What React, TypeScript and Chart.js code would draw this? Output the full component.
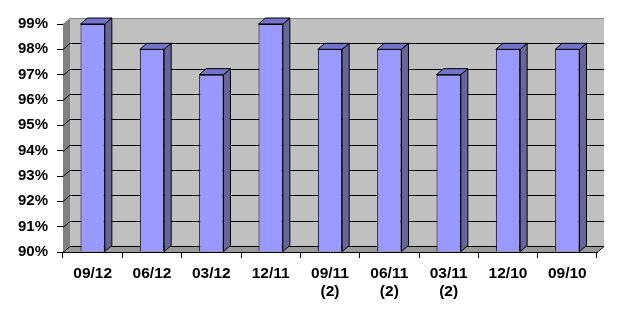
import { useEffect, useRef } from "react";
import { Chart, registerables } from "chart.js";
Chart.register(...registerables);

const categories: string[][] = [
  ["09/12"], ["06/12"], ["03/12"], ["12/11"],
  ["09/11", "(2)"], ["06/11", "(2)"], ["03/11", "(2)"],
  ["12/10"], ["09/10"],
];
const values: number[] = [99, 98, 97, 99, 98, 98, 97, 98, 98];
const yMin = 90;
const yMax = 99;
const yStep = 1;

const DX = 7;
const DY = 6;

const threeD = {
  id: "threeD",
  beforeDatasetsDraw(chart: any) {
    const { ctx, chartArea: ca, scales } = chart;
    const y = scales.y;
    const L = ca.left, R = ca.right, T = ca.top, B = ca.bottom;
    ctx.save();
    // back wall
    ctx.fillStyle = "#c0c0c0";
    ctx.fillRect(L + DX, T - DY, R - L, B - T);
    // left wall
    ctx.fillStyle = "#808080";
    ctx.beginPath();
    ctx.moveTo(L, T);
    ctx.lineTo(L + DX, T - DY);
    ctx.lineTo(L + DX, B - DY);
    ctx.lineTo(L, B);
    ctx.closePath();
    ctx.fill();
    // floor
    ctx.fillStyle = "#9a9a9a";
    ctx.beginPath();
    ctx.moveTo(L, B);
    ctx.lineTo(L + DX, B - DY);
    ctx.lineTo(R + DX, B - DY);
    ctx.lineTo(R, B);
    ctx.closePath();
    ctx.fill();
    // gridlines
    ctx.lineWidth = 1;
    for (let v = yMin; v <= yMax; v += yStep) {
      const yy = Math.round(y.getPixelForValue(v)) + 0.5;
      ctx.strokeStyle = v === yMax ? "#8a8a8a" : "#000";
      ctx.beginPath();
      ctx.moveTo(L, yy);
      ctx.lineTo(L + DX, yy - DY);
      ctx.lineTo(R + DX, yy - DY);
      ctx.stroke();
    }
    // floor right edge
    ctx.strokeStyle = "#000";
    ctx.beginPath();
    ctx.moveTo(R, B + 0.5);
    ctx.lineTo(R + DX, B - DY + 0.5);
    ctx.stroke();
    ctx.restore();
  },
  afterDatasetsDraw(chart: any) {
    const { ctx } = chart;
    const meta = chart.getDatasetMeta(0);
    ctx.save();
    ctx.lineWidth = 1;
    ctx.strokeStyle = "#000";
    meta.data.forEach((el: any) => {
      const p = el.getProps(["x", "y", "base", "width"], true);
      const left = p.x - p.width / 2;
      const right = p.x + p.width / 2;
      const top = p.y;
      const base = p.base;
      // side face
      ctx.fillStyle = "#666699";
      ctx.beginPath();
      ctx.moveTo(right, top);
      ctx.lineTo(right + DX, top - DY);
      ctx.lineTo(right + DX, base - DY);
      ctx.lineTo(right, base);
      ctx.closePath();
      ctx.fill();
      ctx.stroke();
      // top face
      ctx.fillStyle = "#7373cc";
      ctx.beginPath();
      ctx.moveTo(left, top);
      ctx.lineTo(left + DX, top - DY);
      ctx.lineTo(right + DX, top - DY);
      ctx.lineTo(right, top);
      ctx.closePath();
      ctx.fill();
      ctx.stroke();
    });
    ctx.restore();
  },
};

const yFont = { family: "'Liberation Sans', Arial, sans-serif", size: 15, weight: "bold" as const };
const xFont = { family: "'Liberation Sans', Arial, sans-serif", size: 15.5, weight: "bold" as const, lineHeight: 1.15 };

export default function App() {
  const ref = useRef<HTMLCanvasElement>(null);
  useEffect(() => {
    if (!ref.current) return;
    const chart = new Chart(ref.current, {
      type: "bar",
      data: {
        labels: categories,
        datasets: [
          {
            data: values,
            backgroundColor: "#9999ff",
            borderColor: "#000",
            borderWidth: 1,
            barPercentage: 0.41,
            categoryPercentage: 1,
            base: yMin,
          },
        ],
      },
      options: {
        animation: false,
        responsive: true,
        maintainAspectRatio: false,
        layout: { padding: { left: 0, top: 24, right: 27, bottom: 0 } },
        plugins: { legend: { display: false }, tooltip: { enabled: false } },
        scales: {
          x: {
            offset: true,
            grid: { offset: true, drawOnChartArea: false, tickLength: 6, color: "#000" },
            border: { display: true, color: "#000" },
            ticks: { color: "#000", font: xFont, padding: 7, maxRotation: 0, autoSkip: false },
            afterFit: (s: any) => { s.height = 64; },
          },
          y: {
            min: yMin,
            max: yMax,
            grid: { drawOnChartArea: false, tickLength: 6, color: "#000" },
            border: { display: true, color: "#000" },
            ticks: {
              stepSize: yStep,
              color: "#000",
              font: yFont,
              padding: 9,
              callback: (v: any) => v + "%",
            },
            afterFit: (s: any) => { s.width = 63; },
          },
        },
      },
      plugins: [threeD],
    });
    return () => chart.destroy();
  }, []);
  return (
    <div style={{ position: "absolute", left: 0, top: 0, width: 624, height: 316, background: "#fff" }}>
      <canvas ref={ref} />
    </div>
  );
}
